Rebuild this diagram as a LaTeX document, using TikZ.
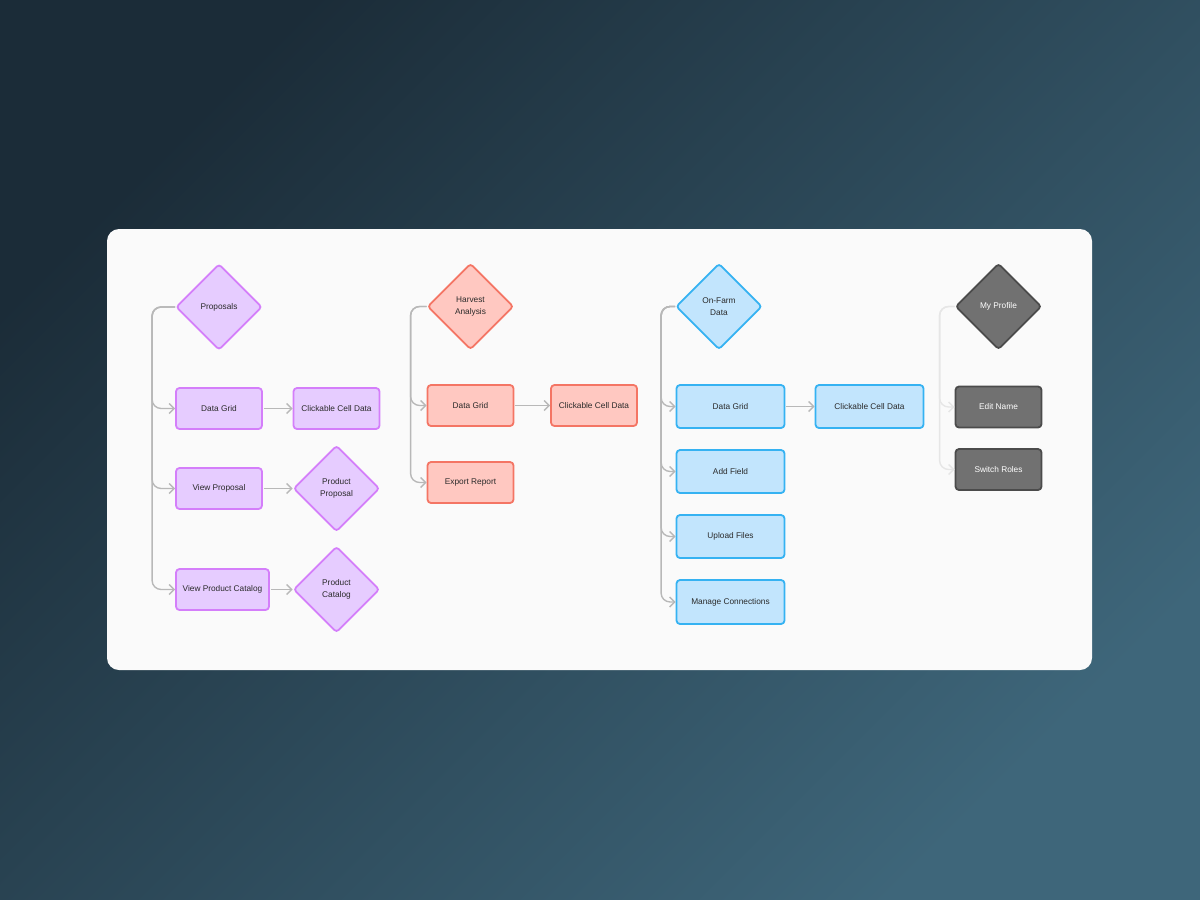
\documentclass[tikz,border=0pt]{standalone}
\usepackage{fontspec}
\setmainfont{Liberation Sans}
\usepackage{tikz}
\usetikzlibrary{arrows.meta, shapes.geometric}

\definecolor{bgA}{HTML}{1B2C38}
\definecolor{bgB}{HTML}{3E667A}
\definecolor{cardbg}{HTML}{FAFAFA}
\definecolor{purFill}{HTML}{E6CCFF}
\definecolor{purLine}{HTML}{D47EFA}
\definecolor{redFill}{HTML}{FFC8C1}
\definecolor{redLine}{HTML}{F47564}
\definecolor{bluFill}{HTML}{C2E5FD}
\definecolor{bluLine}{HTML}{35B2F2}
\definecolor{gryFill}{HTML}{717171}
\definecolor{gryLine}{HTML}{4B4B4B}
\definecolor{linkc}{HTML}{B8B8B8}
\definecolor{linkl}{HTML}{E6E6E6}
\definecolor{txt}{HTML}{2A2A2A}

\tikzset{
  box/.style 2 args={draw=#1, fill=#2, line width=1.8pt, rounded corners=3.5pt,
    minimum width=86pt, minimum height=41pt, inner sep=0pt},
  diam/.style 2 args={draw=#1, fill=#2, line width=1.8pt, rounded corners=3pt,
    shape=diamond, minimum width=86pt, minimum height=86pt, inner sep=0pt},
  link/.style={draw=linkc, line width=1.4pt, rounded corners=9pt},
  linklight/.style={draw=linkl, line width=1.4pt, rounded corners=9pt},
}

\begin{document}
\begin{tikzpicture}[x=1pt, y=-1pt, >={Straight Barb[length=5pt, width=10pt]},
    every node/.style={font=\fontsize{8.3}{11.7}\selectfont, text=txt, align=center}]
    \useasboundingbox (0,0) rectangle (1200,900);
    \shade[top color=bgA, bottom color=bgB, shading angle=45] (0,0) rectangle (1200,900);
    \fill[cardbg, rounded corners=12pt] (107,229) rectangle (1092,670);

    % Proposals
    \node[diam={purLine}{purFill}] (prop) at (219,307) {Proposals};
    \node[box={purLine}{purFill}] (pgrid) at (219,408.5) {Data Grid};
    \node[box={purLine}{purFill}] (pclick) at (336.5,408.5) {Clickable Cell Data};
    \node[box={purLine}{purFill}] (pview) at (219,488.5) {View Proposal};
    \node[diam={purLine}{purFill}] (pprod) at (336.5,488.5) {Product\\Proposal};
    \node[box={purLine}{purFill}, minimum width=93pt] (pcat) at (222.5,589.5) {View Product Catalog};
    \node[diam={purLine}{purFill}] (pcatd) at (336.5,589.5) {Product\\Catalog};

    % Harvest Analysis
    \node[diam={redLine}{redFill}] (harv) at (470.5,306.5) {Harvest\\Analysis};
    \node[box={redLine}{redFill}] (hgrid) at (470.5,405.5) {Data Grid};
    \node[box={redLine}{redFill}] (hclick) at (594,405.5) {Clickable Cell Data};
    \node[box={redLine}{redFill}] (hexp) at (470.5,482.5) {Export Report};

    % On-Farm Data
    \node[diam={bluLine}{bluFill}] (farm) at (719,306.5) {On-Farm\\Data};
    \node[box={bluLine}{bluFill}, minimum width=108pt, minimum height=43pt] (fgrid) at (730.5,406.5) {Data Grid};
    \node[box={bluLine}{bluFill}, minimum width=108pt, minimum height=43pt] (fclick) at (869.5,406.5) {Clickable Cell Data};
    \node[box={bluLine}{bluFill}, minimum width=108pt, minimum height=43pt] (fadd) at (730.5,471.5) {Add Field};
    \node[box={bluLine}{bluFill}, minimum width=108pt, minimum height=43pt] (fup) at (730.5,536.5) {Upload Files};
    \node[box={bluLine}{bluFill}, minimum width=108pt, minimum height=44pt] (fman) at (730.5,602) {Manage Connections};

    % My Profile
    \node[diam={gryLine}{gryFill}, text=white] (prof) at (998.5,306.5) {My Profile};
    \node[box={gryLine}{gryFill}, text=white] (pedit) at (998.5,407) {Edit Name};
    \node[box={gryLine}{gryFill}, text=white] (pswitch) at (998.5,469.5) {Switch Roles};

    % links
    \foreach \t in {pgrid, pview, pcat}
        \draw[link, ->] (prop.west) -- ([xshift=-23pt]prop.west) |- (\t.west);
    \draw[link, ->, shorten <=1pt] (pgrid) -- (pclick);
    \draw[link, ->, shorten <=1pt] (pview) -- (pprod);
    \draw[link, ->, shorten <=1pt] (pcat) -- (pcatd);

    \foreach \t in {hgrid, hexp}
        \draw[link, ->] (harv.west) -- ([xshift=-16pt]harv.west) |- (\t.west);
    \draw[link, ->, shorten <=1pt] (hgrid) -- (hclick);

    \foreach \t in {fgrid, fadd, fup, fman}
        \draw[link, ->] (farm.west) -- ([xshift=-14pt]farm.west) |- (\t.west);
    \draw[link, ->, shorten <=1pt] (fgrid) -- (fclick);

    \foreach \t in {pedit, pswitch}
        \draw[linklight, ->] (prof.west) -- ([xshift=-15pt]prof.west) |- (\t.west);
\end{tikzpicture}
\end{document}
